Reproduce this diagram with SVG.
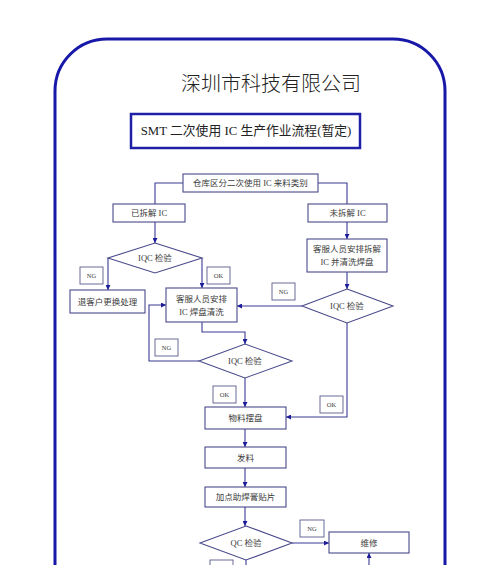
<svg xmlns="http://www.w3.org/2000/svg" width="500" height="565" viewBox="0 0 500 565">
<defs>
<marker id="arr" viewBox="0 0 10 10" refX="10" refY="5" markerWidth="5" markerHeight="5" orient="auto" markerUnits="userSpaceOnUse">
<path d="M0,0 L10,5 L0,10 z" fill="#1c1c9a"/>
</marker>
</defs>
<style>
.node{fill:#ffffff;stroke:#4a4a8c;stroke-width:1.1}
.lab{fill:#ffffff;stroke:#5a5a8c;stroke-width:0.9}
.t{font-family:"Liberation Serif","Noto Sans CJK SC",serif;font-size:8.5px;fill:#3a3a3a;text-anchor:middle;dominant-baseline:central}
.s{font-family:"Liberation Serif","Noto Sans CJK SC",serif;font-size:6.5px;fill:#3a3a3a;text-anchor:middle;dominant-baseline:central}
.c{fill:none;stroke:#3a3a96;stroke-width:1.1}
.ca{fill:none;stroke:#3a3a96;stroke-width:1.1;marker-end:url(#arr)}
</style>
<rect width="500" height="565" fill="#ffffff"/>
<rect id="frame" x="55" y="39" width="390" height="600" rx="52" fill="none" stroke="#1818a8" stroke-width="3"/>
<text id="company" x="271" y="82" font-family="Noto Sans CJK SC,sans-serif" font-size="20" font-weight="300" fill="#222222" text-anchor="middle" dominant-baseline="central">深圳市科技有限公司</text>
<g id="title">
<rect x="131" y="114" width="229" height="34" fill="#ffffff" stroke="#2020a6" stroke-width="2.5"/>
<text x="246" y="131" font-family="Liberation Serif,Noto Sans CJK SC,serif" font-size="12.8" fill="#222222" text-anchor="middle" dominant-baseline="central">SMT 二次使用 IC 生产作业流程(暂定)</text>
</g>
<g id="connectors">
<path class="c" d="M183,183 H155 V204"/>
<path class="c" d="M318,183 H347 V204"/>
<path class="ca" d="M155,222 V243"/>
<path class="ca" d="M108,258 V290"/>
<path class="ca" d="M202,258 V288"/>
<path class="ca" d="M347,222 V239"/>
<path class="ca" d="M347,272 V289"/>
<path class="ca" d="M302,306 H237"/>
<path class="ca" d="M202,322 V332 H245 V344"/>
<path class="ca" d="M199,361 H149 V305 H166"/>
<path class="ca" d="M245,378 V407"/>
<path class="ca" d="M347,323 V417 H286"/>
<path class="ca" d="M245,429 V447"/>
<path class="ca" d="M245,468 V487"/>
<path class="ca" d="M245,507 V526"/>
<path class="ca" d="M292,543 H329"/>
<path class="ca" d="M369,566 V553"/>
<path class="c" d="M246,560 V566"/>
</g>
<g id="n-sort"><rect class="node" x="183" y="174" width="135" height="18"/><text class="t" x="250.5" y="183">仓库区分二次使用 IC 来料类别</text></g>
<g id="n-unpacked"><rect class="node" x="113" y="204" width="72" height="18"/><text class="t" x="149" y="213">已拆解 IC</text></g>
<g id="n-packed"><rect class="node" x="308" y="204" width="79" height="18"/><text class="t" x="347.5" y="213">未拆解 IC</text></g>
<g id="d-iqc1"><polygon class="node" points="155,243 202,258 155,273 108,258"/><text class="t" x="155" y="258">IQC 检验</text></g>
<g id="l-ng1"><rect class="lab" x="80" y="267" width="23" height="17"/><text class="s" x="91.5" y="275.5">NG</text></g>
<g id="l-ok1"><rect class="lab" x="207" y="267" width="23" height="17"/><text class="s" x="218.5" y="275.5">OK</text></g>
<g id="n-return"><rect class="node" x="70" y="290" width="75" height="23"/><text class="t" x="107.5" y="301.5">退客户更换处理</text></g>
<g id="n-clean"><rect class="node" x="166" y="288" width="71" height="34"/><text class="t" x="201.5" y="298.5">客服人员安排</text><text class="t" x="201.5" y="312">IC 焊盘清洗</text></g>
<g id="n-unpack"><rect class="node" x="307" y="239" width="80" height="33"/><text class="t" x="347" y="249">客服人员安排拆解</text><text class="t" x="347" y="262">IC 并清洗焊盘</text></g>
<g id="d-iqc3"><polygon class="node" points="347,289 393,306 347,323 302,306"/><text class="t" x="347" y="306">IQC 检验</text></g>
<g id="l-ng3"><rect class="lab" x="272" y="283" width="23" height="17"/><text class="s" x="283.5" y="291.5">NG</text></g>
<g id="d-iqc2"><polygon class="node" points="245,344 292,361 245,378 199,361"/><text class="t" x="245" y="361">IQC 检验</text></g>
<g id="l-ng2"><rect class="lab" x="155" y="339" width="23" height="17"/><text class="s" x="166.5" y="347.5">NG</text></g>
<g id="l-ok2"><rect class="lab" x="213" y="386" width="23" height="17"/><text class="s" x="224.5" y="394.5">OK</text></g>
<g id="l-ok3"><rect class="lab" x="320" y="396" width="23" height="17"/><text class="s" x="331.5" y="404.5">OK</text></g>
<g id="n-tray"><rect class="node" x="205" y="407" width="81" height="22"/><text class="t" x="245.5" y="418">物料摆盘</text></g>
<g id="n-issue"><rect class="node" x="205" y="447" width="81" height="21"/><text class="t" x="245.5" y="457.5">发料</text></g>
<g id="n-paste"><rect class="node" x="205" y="487" width="81" height="20"/><text class="t" x="245.5" y="497">加点助焊膏贴片</text></g>
<g id="d-qc"><polygon class="node" points="246,526 292,543 246,560 200,543"/><text class="t" x="246" y="543">QC 检验</text></g>
<g id="l-ng4"><rect class="lab" x="300" y="520" width="24" height="17"/><text class="s" x="312" y="528.5">NG</text></g>
<g id="n-repair"><rect class="node" x="329" y="532" width="80" height="21"/><text class="t" x="369" y="542.5">维修</text></g>
<g id="l-ok4"><rect class="lab" x="210" y="560" width="23" height="17"/></g>
</svg>
